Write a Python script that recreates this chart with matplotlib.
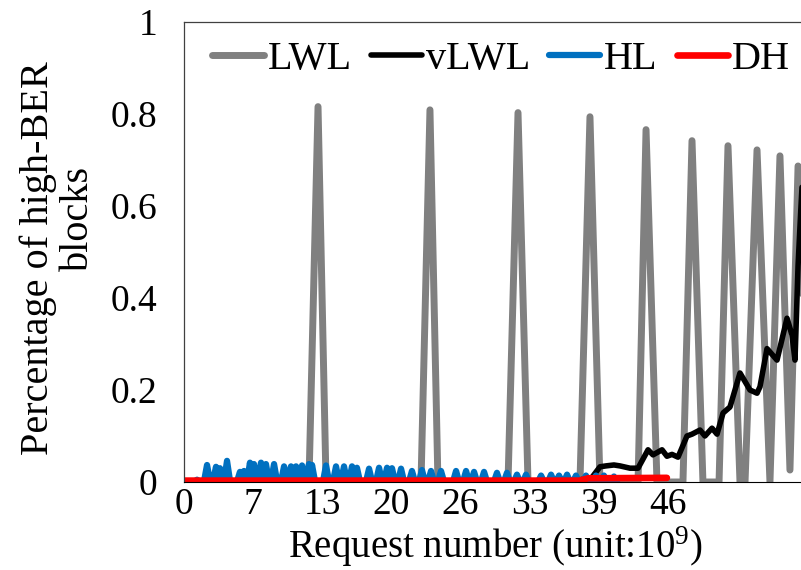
import matplotlib
matplotlib.use("Agg")
import matplotlib.pyplot as plt

# Request number axis, unit: 10^9
tick_labels = ["0", "7", "13", "20", "26", "33", "39", "46"]
tick_step = 46 / 7

# LWL: tall periodic spikes
lwl_x = [0, 11.88, 12.74, 13.50, 22.53, 23.38, 24.14, 30.80, 31.75, 32.70,
         37.64, 38.59, 39.54, 43.16, 43.92, 44.96, 47.43, 48.29, 49.33,
         50.86, 51.71, 52.85, 53.33, 54.47, 55.70, 56.65, 57.60, 58.37, 59.3]
lwl_y = [0, 0, 0.816, 0, 0, 0.809, 0, 0, 0.803, 0,
         0, 0.794, 0, 0, 0.766, 0, 0, 0.742, 0,
         0, 0.731, 0, 0, 0.722, 0, 0.709, 0.026, 0.687, 0]

# vLWL: flat near zero, then climbing
vlwl_x = [0, 5.4, 5.9, 6.4, 33.0, 37.5, 38.78, 39.54, 40.11, 40.87, 41.44,
          42.40, 43.16, 44.11, 44.58, 45.44, 45.91, 46.39, 46.96, 47.81,
          48.29, 49.05, 49.52, 50.19, 50.67, 51.24, 51.90, 52.85, 53.80,
          54.47, 54.75, 55.42, 56.37, 57.32, 57.79, 58.08, 58.37, 58.65, 59.0]
vlwl_y = [0, 0, 0.012, 0, 0.002, 0.004, 0.01, 0.033, 0.035, 0.037, 0.035,
          0.03, 0.03, 0.07, 0.059, 0.07, 0.056, 0.06, 0.054, 0.10,
          0.104, 0.113, 0.10, 0.117, 0.104, 0.15, 0.163, 0.237, 0.20,
          0.193, 0.207, 0.29, 0.265, 0.356, 0.32, 0.265, 0.47, 0.60, 0.75]

# HL: small bumps (centre, height), zero in between
hl_peaks = [1.24, 2.19, 3.04, 3.42, 4.09, 5.32, 5.70, 6.27, 6.65, 7.32,
            7.79, 8.56, 9.51, 10.17, 10.65, 11.22, 11.88, 12.17, 13.50,
            14.45, 15.21, 15.97, 16.44, 17.59, 18.54, 19.30, 19.77, 20.63,
            21.67, 22.62, 23.48, 24.43, 25.86, 26.81, 27.57, 28.52, 29.75,
            30.70, 31.65, 32.51, 33.94, 34.89, 35.65, 36.41, 37.26, 38.21,
            39.16, 39.92, 40.87]
hl_heights = [0.005, 0.037, 0.033, 0.030, 0.046, 0.022, 0.024, 0.042, 0.039,
              0.042, 0.039, 0.039, 0.034, 0.034, 0.034, 0.036, 0.039, 0.037,
              0.036, 0.034, 0.034, 0.034, 0.031, 0.029, 0.031, 0.031, 0.030,
              0.029, 0.024, 0.026, 0.024, 0.024, 0.024, 0.024, 0.022, 0.022,
              0.020, 0.020, 0.016, 0.016, 0.014, 0.016, 0.014, 0.016, 0.014,
              0.014, 0.014, 0.014, 0.012]

# DH: stays at zero
dh_x = [0, 37.6, 38.4, 45.9]
dh_y = [0.003, 0.003, 0.008, 0.009]


def bumps_to_line(centres, heights, half=0.3):
    xs, ys = [0.0], [0.0]
    n = len(centres)
    for i, (c, h) in enumerate(zip(centres, heights)):
        left = c - half if i == 0 else max(c - half, (centres[i - 1] + c) / 2)
        right = c + half if i == n - 1 else min(c + half, (c + centres[i + 1]) / 2)
        xs += [left, c, right]
        ys += [0.0, h, 0.0]
    return xs, ys


plt.rcParams["font.family"] = ["Liberation Serif", "DejaVu Serif"]
plt.rcParams["mathtext.default"] = "regular"

fig = plt.figure(figsize=(8.01, 5.70), dpi=100)
ax = fig.add_axes([184 / 801, 88 / 570, 617 / 801, 460 / 570])

line_kw = dict(solid_joinstyle="round", solid_capstyle="round")
ax.plot(lwl_x, lwl_y, color="#808080", lw=5, label="LWL", **line_kw)
ax.plot(vlwl_x, vlwl_y, color="black", lw=4, label="vLWL", **line_kw)
hx, hy = bumps_to_line(hl_peaks, hl_heights)
ax.plot(hx, hy, color="#0070C0", lw=4.5, label="HL", **line_kw)
ax.plot(dh_x, dh_y, color="#FF0000", lw=4.8, label="DH", **line_kw)

ax.set_xlim(0, 617 / 10.52)
ax.set_ylim(0, 1)
ax.set_xticks([i * tick_step for i in range(len(tick_labels))])
ax.set_xticklabels(tick_labels)
ax.set_yticks([0, 0.2, 0.4, 0.6, 0.8, 1])
ax.set_yticklabels(["0", "0.2", "0.4", "0.6", "0.8", "1"])
ax.tick_params(length=0, labelsize=27)
ax.tick_params(axis="y", pad=19)
ax.tick_params(axis="x", pad=4)

for side in ["left", "top"]:
    ax.spines[side].set_color("#404040")
    ax.spines[side].set_linewidth(0.9)
ax.spines["bottom"].set_color("black")
ax.spines["right"].set_visible(False)

leg = ax.legend(loc="upper left", bbox_to_anchor=(0.02, 0.995), ncol=4,
                frameon=False, fontsize=29, handlelength=1.27,
                handletextpad=0.1, columnspacing=0.47, borderaxespad=0)

fig.text(495 / 801, 1 - 547 / 570, "Request number (unit:$10^{9}$)",
         fontsize=28, ha="center", va="center")
# y title, wrapped over two lines
fig.text(38 / 801, 1 - 258 / 570, "Percentage of high-BER",
         fontsize=29, rotation=90, ha="center", va="center")
fig.text(78 / 801, 1 - 218 / 570, "blocks",
         fontsize=29, rotation=90, ha="center", va="center")

fig.savefig("out.png", dpi=100)
